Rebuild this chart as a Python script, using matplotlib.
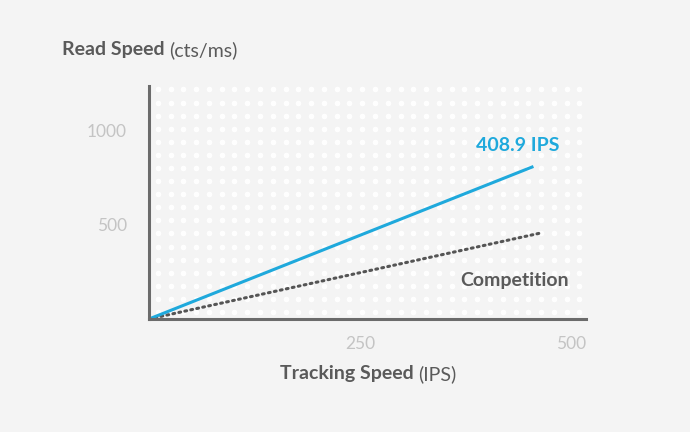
import numpy as np
import matplotlib
matplotlib.use("Agg")
import matplotlib.pyplot as plt

# ------------------ DATA ------------------

hero_x = [0, 454]
hero_y = [0, 808]
comp_x = [0, 464]
comp_y = [0, 457]

x_ticks = [250, 500]
y_ticks = [500, 1000]
hero_label = "408.9 IPS"
comp_label = "Competition"

# ------------------ STYLE ------------------

BG = "#f4f4f4"
BLUE = "#1fa9dc"
DARK = "#5a5a5a"
TICK = "#c4c4c4"
AXIS = "#6b6b6b"
FONT = "Lato"
FS = 14

fig = plt.figure(figsize=(6.9, 4.32), dpi=100)
fig.patch.set_facecolor(BG)
ax = fig.add_axes([149 / 690, 1 - 319 / 432, 437 / 690, 233 / 432])
ax.set_facecolor(BG)

# dotted texture in the plot area
gx = np.linspace(0.02, 0.985, 34)
gy = np.linspace(0.03, 0.985, 18)
mx, my = np.meshgrid(gx, gy)
ax.scatter(mx.ravel(), my.ravel(), s=16, color="white", alpha=0.95,
           linewidths=0, transform=ax.transAxes, zorder=1)

ax.plot(comp_x, comp_y, color="#555555", linewidth=2.2,
        linestyle=(0, (0.6, 1.4)), dash_capstyle="round", zorder=3)
ax.plot(hero_x, hero_y, color=BLUE, linewidth=2.2, zorder=4)

ax.set_xlim(0, 518)
ax.set_ylim(0, 1239)

for s in ["top", "right"]:
    ax.spines[s].set_visible(False)
for s in ["left", "bottom"]:
    ax.spines[s].set_color(AXIS)
    ax.spines[s].set_linewidth(2.2)
    ax.spines[s].set_zorder(5)

ax.set_xticks(x_ticks)
ax.set_yticks(y_ticks)
ax.tick_params(length=0, colors=TICK, labelsize=12.5)
ax.tick_params(axis="x", pad=12)
ax.tick_params(axis="y", pad=16)
for lab in ax.get_xticklabels() + ax.get_yticklabels():
    lab.set_fontfamily(FONT)

ax.text(437, 920, hero_label, color=BLUE,
        fontsize=FS, fontweight="bold", family=FONT, ha="center", va="center")
ax.text(433, 207, comp_label, color=DARK,
        fontsize=FS, fontweight="bold", family=FONT, ha="center", va="center")

# axis titles
t1 = fig.text(62 / 690, 1 - 50 / 432, "Read Speed ", color=DARK, fontsize=FS,
              fontweight="bold", family=FONT, ha="left", va="center")
fig.canvas.draw()
bb = t1.get_window_extent()
fig.text(bb.x1 / 690, 1 - 50 / 432, "(cts/ms)", color=DARK, fontsize=FS,
         family=FONT, ha="left", va="center")

t2 = fig.text(280 / 690, 1 - 374 / 432, "Tracking Speed ", color=DARK, fontsize=FS,
              fontweight="bold", family=FONT, ha="left", va="center")
fig.canvas.draw()
bb = t2.get_window_extent()
fig.text(bb.x1 / 690, 1 - 374 / 432, "(IPS)", color=DARK, fontsize=FS,
         family=FONT, ha="left", va="center")

fig.savefig("out.png", dpi=100, facecolor=BG)
